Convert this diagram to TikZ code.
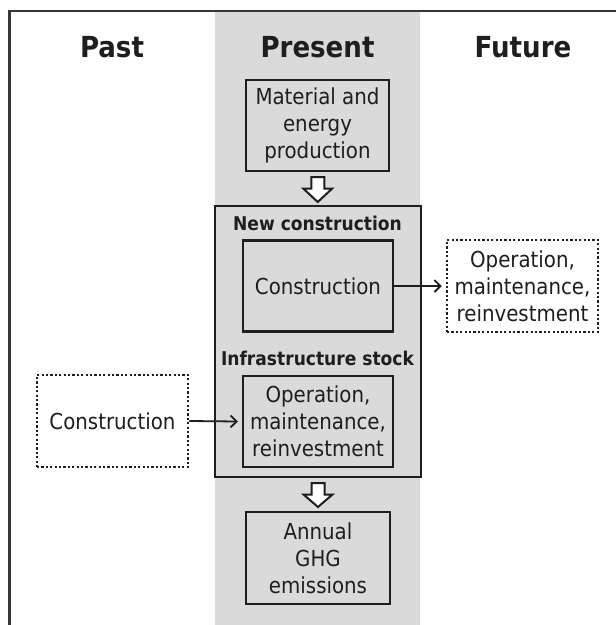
\documentclass[tikz,border=0pt]{standalone}
\usepackage{fontspec}
\setmainfont{DejaVu Sans Condensed}
\usetikzlibrary{calc,arrows.meta}
\definecolor{band}{RGB}{218,218,218}
\definecolor{ink}{RGB}{30,30,30}
\definecolor{frame}{RGB}{55,55,55}
\tikzset{
  body/.style={font=\fontsize{22}{27}\selectfont, text=ink, align=center, inner sep=0pt},
  solidbox/.style={body, draw=ink, line width=2.3pt},
  dotbox/.style={body, draw=ink, line width=2.5pt, fill=white, dash pattern=on 2.2pt off 2.2pt},
  header/.style={font=\fontsize{29}{34}\selectfont\bfseries, text=ink, inner sep=0pt, anchor=base},
  sublabel/.style={font=\fontsize{19}{22}\selectfont\bfseries, text=ink, inner sep=0pt, anchor=base},
  thinarrow/.style={draw=ink, line width=1.8pt, -{Straight Barb[length=6pt,width=12pt,line width=1.8pt]}},
  hollow/.style={draw=ink, line width=2pt, fill=white, line join=miter},
}
\begin{document}
\begin{tikzpicture}[x=1pt,y=-1pt]
\useasboundingbox (0,0) rectangle (616,625);
% gray present band
\fill[band] (215,12) rectangle (420,625);
% frame (top and left edges)
\draw[frame, line width=2.2pt] (9.5,625) -- (9.5,11) -- (616,11);
% headers
\node[header] (past) at (112,57) {Past};
\node[header] (present) at (317.5,57) {Present};
\node[header] (future) at (523,57) {Future};
% material
\node[solidbox, minimum width=143pt, minimum height=91pt] (mat) at (317.5,125.5) {Material and\\energy\\production};
% outer new construction / stock box
\node[draw=ink, line width=2.3pt, minimum width=206pt, minimum height=271pt, inner sep=0pt] (outer) at (318,341.5) {};
\node[sublabel] (nclab) at (317.5,230) {New construction};
\node[sublabel] (islab) at (317.5,365) {Infrastructure stock};
\node[solidbox, minimum width=150pt, minimum height=91pt] (cons) at (318,286) {Construction};
\node[solidbox, minimum width=150pt, minimum height=91pt] (oper) at (318,421.5) {Operation,\\maintenance,\\reinvestment};
% future / past
\node[dotbox, minimum width=151pt, minimum height=92pt] (fut) at (522.5,286) {Operation,\\maintenance,\\reinvestment};
\node[dotbox, minimum width=151pt, minimum height=92pt] (pas) at (112.5,421) {Construction};
% annual
\node[solidbox, minimum width=144pt, minimum height=92pt] (ann) at (318,558) {Annual\\GHG\\emissions};
% thin arrows
\draw[thinarrow] (cons.east) -- ($(fut.west)+(-4,0)$);
\draw[thinarrow] (pas.east) -- ($(oper.west)+(-4,0)$);
% hollow block arrows
\coordinate (h1) at ($(mat.south)!0.5!(outer.north)$);
\coordinate (h2) at ($(outer.south)!0.5!(ann.north)$);
\draw[hollow] ($(h1)+(-6.5,-11.5)$) -- ++(13,0) -- ++(0,11.5) -- ++(8,0) -- ($(h1)+(0,13.5)$) -- ($(h1)+(-14.5,0)$) -- ++(8,0) -- cycle;
\draw[hollow] ($(h2)+(-6.5,-11.5)$) -- ++(13,0) -- ++(0,11.5) -- ++(8,0) -- ($(h2)+(0,12.5)$) -- ($(h2)+(-14.5,0)$) -- ++(8,0) -- cycle;
\end{tikzpicture}
\end{document}
